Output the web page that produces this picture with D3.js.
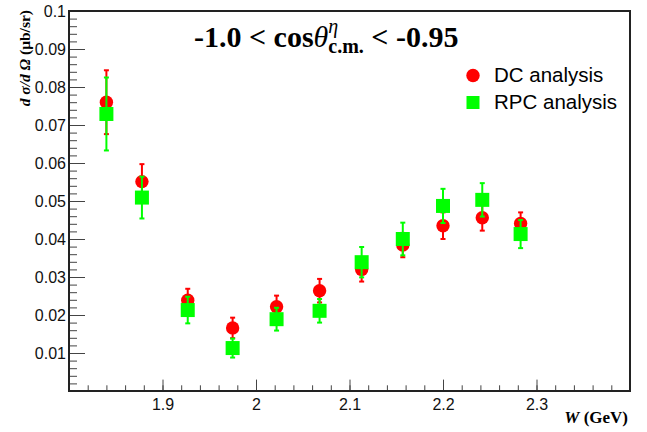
<!DOCTYPE html>
<meta charset="utf-8">
<style>
  body { margin: 0; background: #fff; }
  .tick text { font-family: "Liberation Sans", Arial, sans-serif; font-size: 16px; fill: #111; }
</style>
<body>
<div id="chart"></div>
<script src="https://d3js.org/d3.v7.min.js"></script>
<script>

// W (GeV) bins
var wValues = [1.840, 1.878, 1.927, 1.975, 2.022, 2.068, 2.113, 2.157, 2.200, 2.242, 2.283];

// DC analysis
var dcValues = [0.0760, 0.0551, 0.0239, 0.0166, 0.0222, 0.0264, 0.0320, 0.0384, 0.0435, 0.0456, 0.0441];
var dcErrors = [0.0084, 0.0046, 0.0030, 0.0027, 0.0029, 0.0031, 0.0032, 0.0032, 0.0035, 0.0034, 0.0029];

// RPC analysis
var rpcValues = [0.0729, 0.0509, 0.0213, 0.0113, 0.0189, 0.0211, 0.0339, 0.0400, 0.0487, 0.0503, 0.0413];
var rpcErrors = [0.0096, 0.0055, 0.0035, 0.0025, 0.0030, 0.0031, 0.0040, 0.0043, 0.0045, 0.0044, 0.0037];

var xTicks = [1.9, 2.0, 2.1, 2.2, 2.3];
var yTicks = [0.01, 0.02, 0.03, 0.04, 0.05, 0.06, 0.07, 0.08, 0.09, 0.1];

var width = 647, height = 432;
var margin = {top: 11, right: 17, bottom: 41, left: 69};

var svg = d3.select("#chart").append("svg")
    .attr("width", width)
    .attr("height", height);

var x = d3.scaleLinear().domain([1.8, 2.4]).range([margin.left, width - margin.right]);
var y = d3.scaleLinear().domain([0, 0.1]).range([height - margin.bottom, margin.top]);

var fw = x.range()[1] - x.range()[0],
    fh = y.range()[0] - y.range()[1];

// minor ticks
var xMinor = d3.range(1.8, 2.4001, 0.02);
var yMinor = d3.range(0, 0.1001, 0.002);

svg.append("g")
    .attr("transform", "translate(0," + y(0) + ")")
    .call(d3.axisTop(x).tickValues(xMinor).tickSize(5.7).tickFormat(""))
    .call(function(g){ g.select(".domain").remove(); g.selectAll("line").attr("stroke", "#444"); });

svg.append("g")
    .attr("transform", "translate(" + x(1.8) + ",0)")
    .call(d3.axisRight(y).tickValues(yMinor).tickSize(8).tickFormat(""))
    .call(function(g){ g.select(".domain").remove(); g.selectAll("line").attr("stroke", "#444"); });

// major ticks + labels
svg.append("g")
    .attr("transform", "translate(0," + y(0) + ")")
    .call(d3.axisTop(x).tickValues(xTicks).tickSize(11.4).tickFormat(d3.format("")))
    .call(function(g){
      g.select(".domain").remove();
      g.selectAll("line").attr("stroke", "#444");
      g.selectAll("text").attr("y", 19).attr("dy", 0).attr("dominant-baseline", "auto");
    });

svg.append("g")
    .attr("transform", "translate(" + x(1.8) + ",0)")
    .call(d3.axisRight(y).tickValues(yTicks).tickSize(16).tickFormat(d3.format("")))
    .call(function(g){
      g.select(".domain").remove();
      g.selectAll("line").attr("stroke", "#444");
      g.selectAll("text").attr("x", -3).attr("text-anchor", "end").attr("dy", "0.36em");
    });

// frame
svg.append("rect")
    .attr("x", x(1.8)).attr("y", y(0.1))
    .attr("width", fw).attr("height", fh)
    .attr("fill", "none").attr("stroke", "#222").attr("stroke-width", 2);

function drawSeries(vals, errs, color, shape) {
  var g = svg.append("g");
  var pts = wValues.map(function(w, i){ return {w: w, v: vals[i], e: errs[i]}; });
  g.selectAll("line.err").data(pts).enter().append("line")
      .attr("x1", function(d){ return x(d.w); }).attr("x2", function(d){ return x(d.w); })
      .attr("y1", function(d){ return y(d.v - d.e); }).attr("y2", function(d){ return y(d.v + d.e); })
      .attr("stroke", color).attr("stroke-width", 2);
  [-1, 1].forEach(function(s){
    g.selectAll(null).data(pts).enter().append("line")
        .attr("x1", function(d){ return x(d.w) - 2.5; }).attr("x2", function(d){ return x(d.w) + 2.5; })
        .attr("y1", function(d){ return y(d.v + s * d.e); }).attr("y2", function(d){ return y(d.v + s * d.e); })
        .attr("stroke", color).attr("stroke-width", 2);
  });
  if (shape === "circle") {
    g.selectAll("circle").data(pts).enter().append("circle")
        .attr("cx", function(d){ return x(d.w); }).attr("cy", function(d){ return y(d.v); })
        .attr("r", 6.7).attr("fill", color);
  } else {
    g.selectAll("rect").data(pts).enter().append("rect")
        .attr("x", function(d){ return x(d.w) - 7; }).attr("y", function(d){ return y(d.v) - 7; })
        .attr("width", 14).attr("height", 14).attr("fill", color);
  }
}

drawSeries(dcValues, dcErrors, "#ff0000", "circle");
drawSeries(rpcValues, rpcErrors, "#00ff00", "square");

// title
var title = svg.append("text")
    .attr("x", 194).attr("y", 47)
    .attr("font-family", "Liberation Serif, Times New Roman, serif")
    .attr("font-weight", "bold").attr("font-size", 30).attr("fill", "#000");
title.append("tspan").text("-1.0 < cos");
title.append("tspan").attr("font-style", "italic").attr("font-weight", "normal").text("θ");
title.append("tspan").attr("font-size", 20).attr("font-style", "italic").attr("font-weight", "normal").attr("dy", -14).text("η");
title.append("tspan").attr("font-size", 20).attr("dx", -10).attr("dy", 20).text("c.m.");
title.append("tspan").attr("dy", -6).text(" < -0.95");

// legend
var legend = svg.append("g").attr("font-family", "Liberation Sans, Arial, sans-serif").attr("font-size", 20.5);
legend.append("circle").attr("cx", 473).attr("cy", 75.5).attr("r", 6.7).attr("fill", "#ff0000");
legend.append("text").attr("x", 494).attr("y", 82).text("DC analysis");
legend.append("rect").attr("x", 466.5).attr("y", 96).attr("width", 13).attr("height", 13).attr("fill", "#00ff00");
legend.append("text").attr("x", 494).attr("y", 109).text("RPC analysis");

// x axis title
var xt = svg.append("text")
    .attr("x", 628).attr("y", 423).attr("text-anchor", "end")
    .attr("font-family", "Liberation Serif, Times New Roman, serif")
    .attr("font-weight", "bold").attr("font-size", 17);
xt.append("tspan").attr("font-style", "italic").text("W");
xt.append("tspan").text(" (GeV)");

// y axis title
var yt = svg.append("text")
    .attr("transform", "translate(30,10) rotate(-90)")
    .attr("text-anchor", "end")
    .attr("font-family", "Liberation Serif, Times New Roman, serif")
    .attr("font-weight", "bold").attr("font-size", 15.5);
yt.append("tspan").attr("font-style", "italic").text("d σ/d Ω");
yt.append("tspan").text(" (μb/sr)");

</script>
</body>
